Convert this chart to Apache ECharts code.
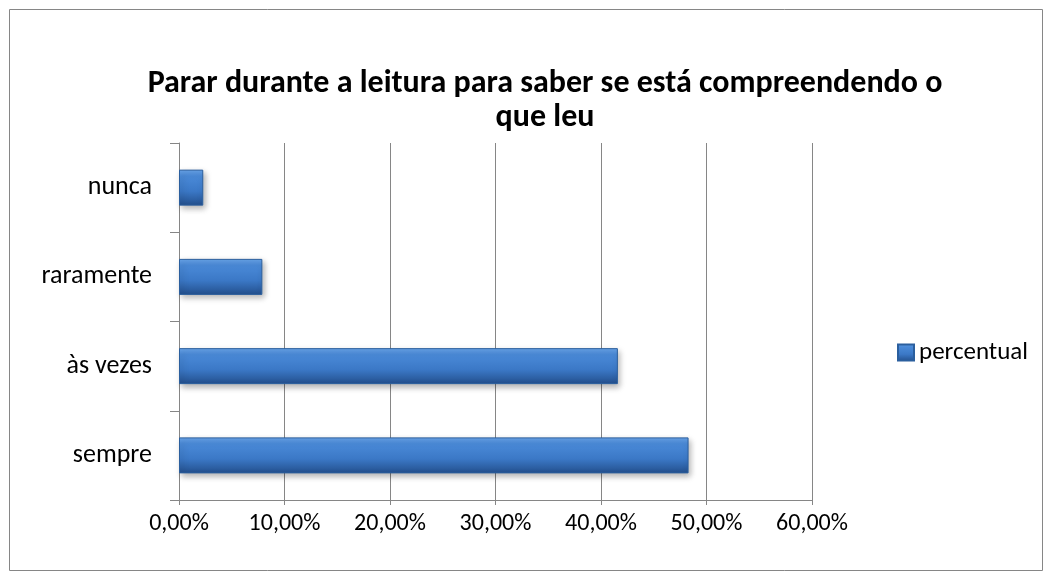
<!DOCTYPE html>
<html>
<head>
<meta charset="utf-8">
<script src="https://cdn.jsdelivr.net/npm/echarts@6/dist/echarts.min.js"></script>
<style>
  html, body { margin: 0; padding: 0; background: #fff; }
  #chart { width: 1052px; height: 580px; }
</style>
</head>
<body>
<div id="chart"></div>
<script>
// categories, bottom to top as ECharts draws them
var categories = ['sempre', 'às vezes', 'raramente', 'nunca'];
var percentual = [0.483, 0.416, 0.079, 0.023];
var seriesName = 'percentual';

var fontFam = 'Carlito, Lato, "Liberation Sans", sans-serif';

var barColor = new echarts.graphic.LinearGradient(0, 0, 0, 1, [
  { offset: 0, color: '#6aa5ea' },
  { offset: 0.18, color: '#4a8ad8' },
  { offset: 0.6, color: '#3b78c6' },
  { offset: 1, color: '#234f8c' }
]);

var chart = echarts.init(document.getElementById('chart'));
chart.setOption({
  animation: false,
  title: {
    text: 'Parar durante a leitura para saber se está compreendendo o\nque leu',
    left: 540,
    textAlign: 'center',
    top: 62,
    textStyle: { fontFamily: fontFam, fontSize: 32, fontWeight: 'bold', color: '#000', lineHeight: 34 }
  },
  graphic: [{
    type: 'rect',
    shape: { x: 9.5, y: 9.5, width: 1033, height: 561 },
    style: { fill: 'none', stroke: '#868686', lineWidth: 1 },
    silent: true
  }],
  legend: {
    data: [{ name: seriesName, icon: 'rect' }],
    left: 892,
    top: 335,
    itemWidth: 16,
    itemHeight: 16,
    itemGap: 8,
    textStyle: { fontFamily: fontFam, fontSize: 25, color: '#000' }
  },
  grid: { left: 179, right: 240, top: 143, bottom: 80 },
  xAxis: {
    type: 'value',
    min: 0,
    max: 0.6,
    interval: 0.1,
    axisLine: { show: true, lineStyle: { color: '#868686', width: 1 } },
    axisTick: { show: true, length: 5, lineStyle: { color: '#868686' } },
    splitLine: { show: true, lineStyle: { color: '#868686', width: 1 } },
    axisLabel: {
      margin: 12,
      fontFamily: fontFam, fontSize: 24, color: '#000',
      formatter: function (v) { return (v * 100).toFixed(2).replace('.', ',') + '%'; }
    }
  },
  yAxis: {
    type: 'category',
    data: categories,
    axisLine: { show: true, lineStyle: { color: '#868686', width: 1 } },
    axisTick: { show: true, length: 9, lineStyle: { color: '#868686' } },
    axisLabel: { margin: 27, fontFamily: fontFam, fontSize: 26, color: '#000' }
  },
  series: [{
    name: seriesName,
    type: 'bar',
    data: percentual,
    barWidth: 36,
    itemStyle: {
      color: barColor,
      borderColor: '#2b5f9e',
      borderWidth: 1,
      shadowColor: 'rgba(0,0,0,0.3)',
      shadowBlur: 6,
      shadowOffsetX: 2,
      shadowOffsetY: 3
    }
  }]
});
</script>
</body>
</html>
